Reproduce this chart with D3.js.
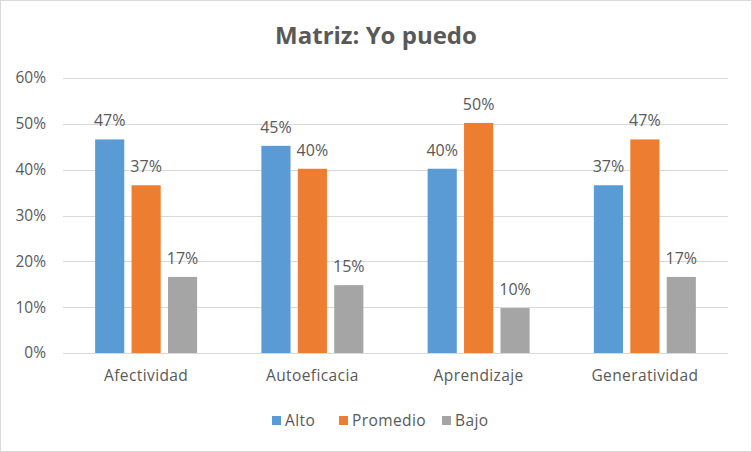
<!DOCTYPE html>
<html>
<head>
<meta charset="utf-8">
<script src="https://cdn.jsdelivr.net/npm/d3@7"></script>
<style>
  body { margin: 0; background: #fff; }
  text { font-family: "Open Sans", "DejaVu Sans", sans-serif; fill: #595959; }
</style>
</head>
<body>
<div id="chart"></div>
<script>
// Data
var categories = ["Afectividad", "Autoeficacia", "Aprendizaje", "Generatividad"];
var seriesNames = ["Alto", "Promedio", "Bajo"];
var alto = [0.466, 0.452, 0.402, 0.366];
var promedio = [0.366, 0.402, 0.502, 0.466];
var bajo = [0.166, 0.148, 0.098, 0.166];
var yTicks = [0, 0.1, 0.2, 0.3, 0.4, 0.5, 0.6];

var colors = ["#5B9BD5", "#ED7D31", "#A5A5A5"];

// svg size
var svgWidth = 752;
var svgHeight = 452;

var margin = { top: 78, right: 24, bottom: 99, left: 63 };
var chartWidth = svgWidth - margin.left - margin.right;
var chartHeight = svgHeight - margin.top - margin.bottom;

var svg = d3.select("#chart")
  .append("svg")
  .attr("width", svgWidth)
  .attr("height", svgHeight);

// outer border
svg.append("rect")
  .attr("x", 0.5).attr("y", 0.5)
  .attr("width", svgWidth - 1).attr("height", svgHeight - 1)
  .attr("fill", "#fff")
  .attr("stroke", "#d9d9d9");

// title
svg.append("text")
  .attr("x", svgWidth / 2)
  .attr("y", 44)
  .attr("text-anchor", "middle")
  .attr("font-size", "24px")
  .attr("font-weight", "bold")
  .text("Matriz: Yo puedo");

var chartGroup = svg.append("g")
  .attr("transform", `translate(${margin.left}, ${margin.top})`);

var x0 = d3.scaleBand()
  .domain(categories)
  .range([0, chartWidth]);

var x1 = d3.scaleBand()
  .domain(seriesNames)
  .range([0, 102])
  .paddingInner(0.2);

var y = d3.scaleLinear()
  .domain([0, 0.6])
  .range([chartHeight, 0]);

// gridlines
chartGroup.append("g")
  .selectAll("line")
  .data(yTicks)
  .enter()
  .append("line")
  .attr("x1", 0)
  .attr("x2", chartWidth)
  .attr("y1", d => Math.round(y(d)) + 0.5)
  .attr("y2", d => Math.round(y(d)) + 0.5)
  .attr("stroke", "#d9d9d9")
  .attr("stroke-width", 1);

// y axis labels
var leftAxis = d3.axisLeft(y).tickValues(yTicks).tickFormat(d3.format(".0%")).tickSize(0).tickPadding(17);
chartGroup.append("g")
  .call(leftAxis)
  .call(g => g.select(".domain").remove())
  .selectAll("text")
  .attr("font-size", "15.5px")
  .attr("fill", "#595959")
  .attr("font-family", "'Open Sans', sans-serif");

// x axis labels
var bottomAxis = d3.axisBottom(x0).tickSize(0).tickPadding(17);
chartGroup.append("g")
  .attr("transform", `translate(0, ${chartHeight})`)
  .call(bottomAxis)
  .call(g => g.select(".domain").remove())
  .selectAll("text")
  .attr("font-size", "15.5px")
  .attr("letter-spacing", "0.4px")
  .attr("fill", "#595959")
  .attr("font-family", "'Open Sans', sans-serif");

var seriesValues = [alto, promedio, bajo];
var rows = [];
categories.forEach(function(cat, i) {
  seriesNames.forEach(function(s, j) {
    rows.push({ cat: cat, series: s, value: seriesValues[j][i], color: colors[j] });
  });
});

var groupOffset = (x0.bandwidth() - 102) / 2;

chartGroup.selectAll(".bar")
  .data(rows)
  .enter()
  .append("rect")
  .attr("class", "bar")
  .attr("x", d => x0(d.cat) + groupOffset + x1(d.series))
  .attr("y", d => y(d.value))
  .attr("width", x1.bandwidth())
  .attr("height", d => chartHeight - y(d.value))
  .attr("fill", d => d.color);

chartGroup.selectAll(".lbl")
  .data(rows)
  .enter()
  .append("text")
  .attr("class", "lbl")
  .attr("x", d => x0(d.cat) + groupOffset + x1(d.series) + x1.bandwidth() / 2)
  .attr("y", d => y(d.value) - 13)
  .attr("text-anchor", "middle")
  .attr("font-size", "16px")
  .text(d => d3.format(".0%")(d.value));

// legend
var legendX = [272, 339, 442];
var legend = svg.append("g")
  .attr("transform", "translate(0, 421)");

seriesNames.forEach(function(s, j) {
  legend.append("rect")
    .attr("x", legendX[j])
    .attr("y", -5)
    .attr("width", 9)
    .attr("height", 9)
    .attr("fill", colors[j]);
  legend.append("text")
    .attr("x", legendX[j] + 13)
    .attr("y", 0)
    .attr("dy", "0.35em")
    .attr("font-size", "15.5px")
    .attr("letter-spacing", "0.4px")
    .text(s);
});
</script>
</body>
</html>
